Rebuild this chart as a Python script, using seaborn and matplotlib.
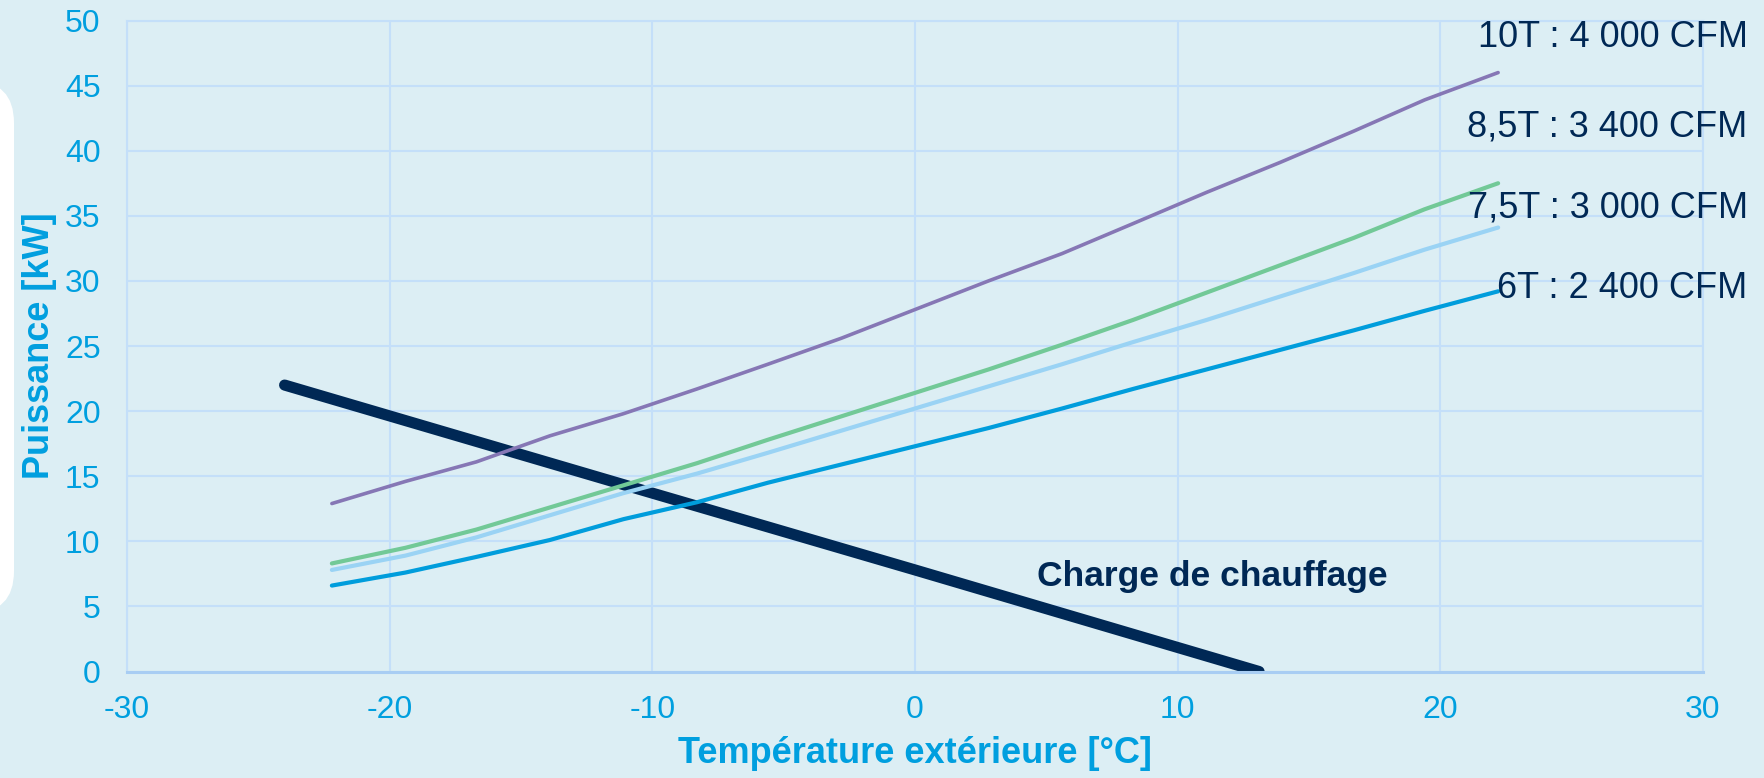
import matplotlib
matplotlib.use("Agg")
import matplotlib.pyplot as plt
import seaborn as sns
from matplotlib.patches import FancyBboxPatch

# outdoor temperature (°C) for the heat-pump capacity curves
temps = [-22.2, -19.4, -16.7, -13.9, -11.1, -8.3, -5.6, -2.8, 0.0,
         2.8, 5.6, 8.3, 11.1, 13.9, 16.7, 19.4, 22.2]

cap_10t = [12.9, 14.6, 16.1, 18.1, 19.8, 21.7, 23.6, 25.6, 27.8,
           30.0, 32.1, 34.4, 36.8, 39.1, 41.5, 43.9, 46.0]
cap_85t = [8.3, 9.5, 10.9, 12.6, 14.3, 16.0, 17.8, 19.6, 21.4,
           23.2, 25.1, 27.0, 29.1, 31.2, 33.3, 35.5, 37.5]
cap_75t = [7.8, 8.9, 10.3, 12.0, 13.7, 15.2, 16.8, 18.5, 20.2,
           21.9, 23.6, 25.3, 27.0, 28.8, 30.6, 32.4, 34.1]
cap_6t = [6.6, 7.6, 8.8, 10.1, 11.7, 13.0, 14.5, 15.9, 17.3,
          18.7, 20.2, 21.7, 23.2, 24.7, 26.2, 27.7, 29.2]

# heating load line
load_temps = [-24.0, -10.0, 0.0, 13.1]
load_kw = [22.0, 13.7, 7.8, 0.0]

series_labels = ["10T : 4 000 CFM", "8,5T : 3 400 CFM",
                 "7,5T : 3 000 CFM", "6T : 2 400 CFM"]
label_y = [48.0, 41.1, 34.9, 28.7]

x_ticks = [-30, -20, -10, 0, 10, 20, 30]
y_ticks = [0, 5, 10, 15, 20, 25, 30, 35, 40, 45, 50]

BG = "#DCEEF4"
CYAN = "#009FDF"
NAVY = "#002855"
GRID = "#C4DFF9"

sns.set_style("white")
plt.rcParams["font.family"] = ["Liberation Sans", "DejaVu Sans"]
plt.rcParams["axes.unicode_minus"] = False

fig = plt.figure(figsize=(17.65, 7.78), dpi=100, facecolor=BG)
ax = fig.add_axes([127 / 1765, 106.5 / 778, 1576 / 1765, 651 / 778])
ax.set_facecolor(BG)

# white rounded panel peeking in from the left edge
fig.patches.append(FancyBboxPatch(
    (-60, 165), 74, 532, boxstyle="round,pad=0,rounding_size=42",
    transform=None, facecolor="white", edgecolor="none", zorder=0))

sns.lineplot(x=load_temps, y=load_kw, ax=ax, color=NAVY, linewidth=8,
             solid_capstyle="round", zorder=2)
sns.lineplot(x=temps, y=cap_6t, ax=ax, color="#009DDC", linewidth=3, zorder=3)
sns.lineplot(x=temps, y=cap_75t, ax=ax, color="#9AD3F4", linewidth=3, zorder=3)
sns.lineplot(x=temps, y=cap_85t, ax=ax, color="#72C997", linewidth=3, zorder=3)
sns.lineplot(x=temps, y=cap_10t, ax=ax, color="#8677B5", linewidth=2.6, zorder=3)

for text, yv in zip(series_labels, label_y):
    ax.text(31.7, yv, text, ha="right", va="baseline", fontsize=26,
            color=NAVY, clip_on=False, zorder=5)

ax.text(4.65, 6.55, "Charge de chauffage", ha="left", va="baseline",
        fontsize=25.5, fontweight="bold", color=NAVY, zorder=5)

ax.set_xlim(-30, 30)
ax.set_ylim(0, 50)
ax.set_xticks(x_ticks)
ax.set_yticks(y_ticks)
ax.grid(True, color=GRID, linewidth=1.5)
ax.set_axisbelow(True)
for side in ["top", "right", "left"]:
    ax.spines[side].set_color(GRID)
    ax.spines[side].set_linewidth(1.5)
ax.spines["bottom"].set_color("#A8CDF3")
ax.spines["bottom"].set_linewidth(2.2)

ax.tick_params(axis="both", length=0, labelsize=23, labelcolor=CYAN)
ax.tick_params(axis="x", pad=17)
ax.tick_params(axis="y", pad=19)

ax.set_xlabel("Température extérieure [°C]", fontsize=26, fontweight="bold",
              color=CYAN, labelpad=8)
ax.set_ylabel("Puissance [kW]", fontsize=26, fontweight="bold",
              color=CYAN, labelpad=6)

fig.savefig("out.png", dpi=100, facecolor=BG)
